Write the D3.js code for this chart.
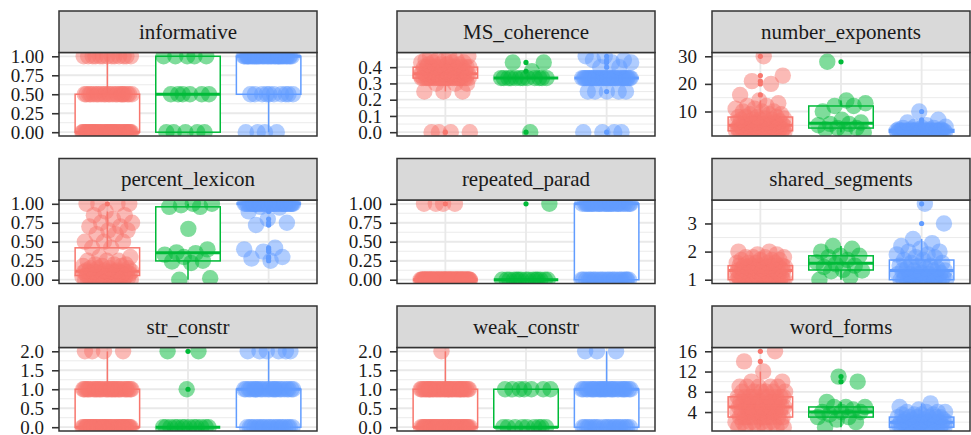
<!DOCTYPE html>
<html>
<head>
<meta charset="utf-8">
<script src="https://cdn.jsdelivr.net/npm/d3@7"></script>
<style>
  body { margin: 0; background: #ffffff; }
  svg { display: block; }
  svg text { font-family: "Liberation Serif", "DejaVu Serif", serif; }
</style>
</head>
<body>
<svg id="chart" width="971" height="435"></svg>
<script>
// ---- data -------------------------------------------------------------
// Three groups compared within each facet
const groups = ["A", "B", "C"];

// Each group is a frequency table: [value, number of observations]
const informative = [
  [[0, 45], [0.5, 22], [1, 13]],
  [[0, 5], [0.5, 6], [1, 5]],
  [[0, 4], [0.5, 10], [1, 36]]
];
const msCoherence = [
  [[0, 4], [0.25, 3], [0.3, 3], [0.333, 25], [0.35, 4], [0.36, 6], [0.375, 8], [0.4, 12], [0.417, 4], [0.429, 4], [0.444, 4], [0.467, 3]],
  [[0, 1], [0.333, 12], [0.375, 1], [0.429, 2]],
  [[0, 4], [0.25, 5], [0.333, 33], [0.4, 2], [0.429, 2], [0.444, 2], [0.467, 2]]
];
const numberExponents = [
  [[2.5, 4], [3, 18], [3.5, 4], [4, 8], [4.5, 3], [5, 6], [5.5, 3], [6, 5], [6.5, 2], [7, 4], [7.5, 2], [8, 4], [9, 3], [10, 3], [11, 2], [12, 2], [13, 1], [14, 1], [16, 1], [20, 1], [21, 1], [23, 1], [30, 1]],
  [[2.5, 1], [3, 1], [3.5, 1], [4, 2], [5, 1], [5.5, 2], [6, 1], [7, 1], [10, 1], [12, 2], [13, 1], [14, 1], [28, 1]],
  [[2.5, 14], [3, 22], [3.5, 5], [4, 3], [4.5, 2], [5, 1], [6, 1], [7, 1], [10, 1]]
];
const percentLexicon = [
  [[0, 10], [0.02, 5], [0.04, 5], [0.06, 3], [0.08, 6], [0.1, 8], [0.11, 4], [0.12, 3], [0.15, 4], [0.18, 3], [0.2, 3], [0.25, 3], [0.3, 2], [0.42, 2], [0.5, 3], [0.6, 2], [0.65, 2], [0.7, 2], [0.75, 2], [0.8, 1], [0.85, 2], [0.9, 1], [1, 4]],
  [[0, 1], [0.02, 1], [0.22, 1], [0.24, 1], [0.25, 1], [0.3, 1], [0.33, 1], [0.35, 1], [0.36, 1], [0.4, 1], [0.67, 1], [0.96, 2], [0.98, 1], [1, 2]],
  [[0.25, 1], [0.28, 1], [0.3, 1], [0.37, 1], [0.4, 1], [0.42, 1], [0.72, 1], [0.75, 1], [0.8, 1], [0.9, 1], [0.95, 1], [0.96, 1], [1, 38]]
];
const repeatedParad = [
  [[0, 76], [1, 4]],
  [[0, 15], [1, 1]],
  [[0, 22], [1, 28]]
];
const sharedSegments = [
  [[1, 22], [1.1, 5], [1.2, 6], [1.25, 4], [1.33, 8], [1.4, 6], [1.45, 4], [1.5, 8], [1.6, 5], [1.7, 4], [1.8, 4], [1.9, 2], [2, 2]],
  [[1, 1], [1.1, 1], [1.3, 1], [1.33, 1], [1.35, 1], [1.45, 1], [1.5, 1], [1.55, 1], [1.62, 1], [1.7, 1], [1.8, 1], [1.85, 2], [2, 1], [2.1, 1], [2.2, 1]],
  [[1, 14], [1.1, 4], [1.2, 4], [1.25, 2], [1.33, 4], [1.4, 3], [1.5, 3], [1.6, 2], [1.7, 2], [1.8, 2], [1.9, 2], [2, 2], [2.1, 1], [2.2, 1], [2.3, 1], [2.45, 1], [3, 1], [3.7, 1]]
];
const strConstr = [
  [[0, 45], [1, 31], [2, 4]],
  [[0, 13], [1, 1], [2, 2]],
  [[0, 20], [1, 24], [2, 6]]
];
const weakConstr = [
  [[0, 42], [1, 37], [2, 1]],
  [[0, 9], [1, 7]],
  [[0, 20], [1, 27], [2, 3]]
];
const wordForms = [
  [[1, 6], [2, 8], [3, 10], [4, 10], [5, 10], [6, 10], [7, 10], [8, 6], [9, 5], [10, 2], [12, 1], [14, 1], [16, 1]],
  [[1, 1], [2, 1], [2.5, 1], [3, 2], [3.5, 1], [4, 3], [4.5, 1], [5, 3], [6, 1], [10, 1], [11, 1]],
  [[1, 14], [1.5, 4], [2, 10], [2.5, 5], [3, 6], [3.5, 4], [4, 4], [4.5, 1], [5, 1], [5.7, 1]]
];

// Facet titles and y tick labels
const facetNames = ["informative", "MS_coherence", "number_exponents",
                    "percent_lexicon", "repeated_parad", "shared_segments",
                    "str_constr", "weak_constr", "word_forms"];
const unitTicks = ["0.00", "0.25", "0.50", "0.75", "1.00"];
const coherenceTicks = ["0.0", "0.1", "0.2", "0.3", "0.4"];
const exponentTicks = ["10", "20", "30"];
const segmentTicks = ["1", "2", "3"];
const constrTicks = ["0.0", "0.5", "1.0", "1.5", "2.0"];
const wordFormTicks = ["4", "8", "12", "16"];

// ---- assemble facets -------------------------------------------------
const facetData = [informative, msCoherence, numberExponents, percentLexicon,
                   repeatedParad, sharedSegments, strConstr, weakConstr, wordForms];
const facetTicks = [unitTicks, coherenceTicks, exponentTicks, unitTicks,
                    unitTicks, segmentTicks, constrTicks, constrTicks, wordFormTicks];

// ---- appearance ------------------------------------------------------
const colors = ["#F8766D", "#00BA38", "#619CFF"];
const colLeft = [59, 397, 712];
const panelW = 258;
const rowTop = [11, 158.5, 306];
const stripH = 41.5;
const panelH = 83.5;
const ink = "#333333";
const gridColor = "#E9E9E9";
const serif = "'Liberation Serif', 'DejaVu Serif', serif";

const svg = d3.select("#chart");

function expand(freq) {
  const out = [];
  freq.forEach(([v, n]) => { for (let k = 0; k < n; k++) out.push(v); });
  return out;
}

function boxStats(vals) {
  const s = vals.slice().sort(d3.ascending);
  const q1 = d3.quantile(s, 0.25), med = d3.quantile(s, 0.5), q3 = d3.quantile(s, 0.75);
  const iqr = q3 - q1;
  const eps = 1e-9;
  const lo = d3.min(s.filter(v => v >= q1 - 1.5 * iqr - eps));
  const hi = d3.max(s.filter(v => v <= q3 + 1.5 * iqr + eps));
  const out = Array.from(new Set(s.filter(v => v < lo || v > hi)));
  return { q1, med, q3, lo, hi, out };
}

facetNames.forEach((name, fi) => {
  const col = fi % 3, row = Math.floor(fi / 3);
  const x0 = colLeft[col], x1 = x0 + panelW;
  const sTop = rowTop[row], pTop = sTop + stripH, pBot = pTop + panelH;

  const series = facetData[fi].map(expand);
  const all = series.flat();
  const [mn, mx] = d3.extent(all);
  const pad = (mx - mn) * 0.05;

  const x = d3.scalePoint().domain(groups).range([x0, x1]).padding(0.6);
  const step = x.step();
  const y = d3.scaleLinear().domain([mn - pad, mx + pad]).range([pBot, pTop]);

  const g = svg.append("g");
  const clipId = "clip" + fi;
  g.append("clipPath").attr("id", clipId)
    .append("rect").attr("x", x0).attr("y", pTop).attr("width", panelW).attr("height", panelH);

  const panel = g.append("g").attr("clip-path", `url(#${clipId})`);
  panel.append("rect").attr("x", x0).attr("y", pTop).attr("width", panelW).attr("height", panelH)
    .attr("fill", "#ffffff");

  // grid lines: minor halfway between the labelled breaks
  const labels = facetTicks[fi];
  const tv = labels.map(Number);
  const tStep = tv[1] - tv[0];
  const [d0, d1] = y.domain();
  const start = tv[0] - tStep * Math.ceil((tv[0] - d0) / tStep);
  const major = d3.range(start, d1 + 1e-9, tStep).filter(t => t >= d0 - 1e-9);
  const minor = d3.range(start - tStep / 2, d1 + 1e-9, tStep).filter(t => t >= d0);
  panel.selectAll(".minor").data(minor).join("line")
    .attr("x1", x0).attr("x2", x1).attr("y1", d => y(d)).attr("y2", d => y(d))
    .attr("stroke", gridColor).attr("stroke-width", 0.9);
  panel.selectAll(".major").data(major).join("line")
    .attr("x1", x0).attr("x2", x1).attr("y1", d => y(d)).attr("y2", d => y(d))
    .attr("stroke", gridColor).attr("stroke-width", 1.8);
  panel.selectAll(".vmajor").data(groups).join("line")
    .attr("x1", d => x(d)).attr("x2", d => x(d)).attr("y1", pTop).attr("y2", pBot)
    .attr("stroke", gridColor).attr("stroke-width", 1.8);

  // boxplots
  const bw = step * 0.8;
  series.forEach((vals, gi) => {
    const st = boxStats(vals);
    const cx = x(groups[gi]);
    const c = colors[gi];
    const bg = panel.append("g");
    bg.append("line").attr("x1", cx).attr("x2", cx).attr("y1", y(st.q3)).attr("y2", y(st.hi))
      .attr("stroke", c).attr("stroke-width", 1.5);
    bg.append("line").attr("x1", cx).attr("x2", cx).attr("y1", y(st.q1)).attr("y2", y(st.lo))
      .attr("stroke", c).attr("stroke-width", 1.5);
    bg.append("rect").attr("x", cx - bw / 2).attr("width", bw)
      .attr("y", y(st.q3)).attr("height", Math.max(0, y(st.q1) - y(st.q3)))
      .attr("fill", "#ffffff").attr("stroke", c).attr("stroke-width", 1.5);
    bg.append("line").attr("x1", cx - bw / 2).attr("x2", cx + bw / 2)
      .attr("y1", y(st.med)).attr("y2", y(st.med))
      .attr("stroke", c).attr("stroke-width", 3);
    bg.selectAll("circle").data(st.out).join("circle")
      .attr("cx", cx).attr("cy", d => y(d)).attr("r", 2.6).attr("fill", c);
  });

  // jittered observations
  series.forEach((vals, gi) => {
    const cx = x(groups[gi]);
    const seed = fi * 0.371 + gi * 0.213;
    panel.append("g").selectAll("circle").data(vals).join("circle")
      .attr("cx", (d, i) => {
        const u = ((i * 0.6180339887 + seed) % 1) - 0.5;
        return cx + u * 0.62 * step;
      })
      .attr("cy", d => y(d))
      .attr("r", 8.2)
      .attr("fill", colors[gi])
      .attr("fill-opacity", 0.5);
  });

  // panel border
  g.append("rect").attr("x", x0).attr("y", pTop).attr("width", panelW).attr("height", panelH)
    .attr("fill", "none").attr("stroke", ink).attr("stroke-width", 1.5);

  // strip
  g.append("rect").attr("x", x0).attr("y", sTop).attr("width", panelW).attr("height", stripH)
    .attr("fill", "#D9D9D9").attr("stroke", ink).attr("stroke-width", 1.5);
  g.append("text").attr("x", (x0 + x1) / 2).attr("y", sTop + stripH / 2)
    .attr("text-anchor", "middle").attr("dominant-baseline", "central")
    .attr("font-family", serif)
    .attr("font-size", 21).attr("fill", "#1A1A1A").text(name);

  // y axis
  const ax = g.append("g").attr("transform", `translate(${x0},0)`)
    .call(d3.axisLeft(y).tickValues(tv).tickFormat((d, i) => labels[i]).tickSize(7).tickPadding(8));
  ax.select(".domain").remove();
  ax.attr("font-family", serif).attr("font-size", 19);
  ax.selectAll(".tick line").attr("stroke", ink).attr("stroke-width", 1.6);
  ax.selectAll(".tick text").attr("font-family", serif).attr("font-size", 19).attr("fill", "#1A1A1A");
});
</script>
</body>
</html>
